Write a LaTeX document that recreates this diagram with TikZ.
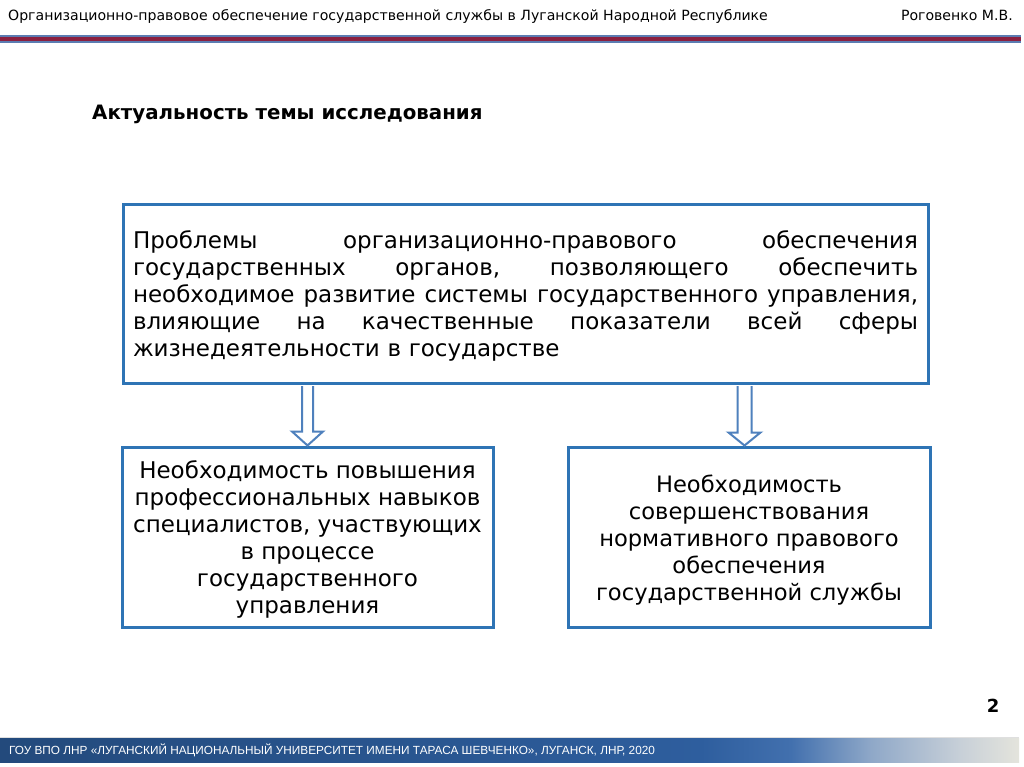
\documentclass[tikz,border=0pt]{standalone}
\usepackage{fontspec}
\setmainfont{DejaVu Sans}
\newfontfamily\ftfont{Liberation Sans}
\usetikzlibrary{calc}
\definecolor{boxblue}{RGB}{46,116,181}
\definecolor{arrblue}{RGB}{79,129,189}
\definecolor{stripeblue}{RGB}{91,124,178}
\definecolor{stripered}{RGB}{139,32,64}
\definecolor{fa}{RGB}{35,74,124}
\definecolor{fb}{RGB}{46,94,158}
\definecolor{fc}{RGB}{66,112,174}
\definecolor{fd}{RGB}{143,168,200}
\definecolor{fe}{RGB}{200,208,216}
\definecolor{ff}{RGB}{228,228,220}
\pgfdeclarehorizontalshading{footshade}{100bp}{color(0bp)=(fa); color(25bp)=(fa); color(59.4bp)=(fb); color(63.8bp)=(fc); color(67.75bp)=(fd); color(72.15bp)=(fe); color(75bp)=(ff); color(100bp)=(ff)}
\tikzset{
  framebox/.style={draw=boxblue, line width=3pt, fill=white, inner sep=0pt},
  hollowarrow/.style={draw=arrblue, line width=2pt, fill=white, line join=miter},
  bodytext/.style={font=\fontsize{23}{27}\selectfont, text=black},
  hdr/.style={inner sep=0pt, font=\fontsize{14.1}{16}\selectfont, text=black},
}
\newcommand{\jline}[1]{\makebox[785pt][l]{#1}}
\begin{document}
\begin{tikzpicture}[x=1pt,y=-1pt]
\useasboundingbox (0,0) rectangle (1024,767);
\fill[white] (0,0) rectangle (1024,767);
% header
\node[hdr, anchor=base west] (htitle) at (8,21)
  {Организационно-правовое обеспечение государственной службы в Луганской Народной Республике};
\node[hdr, anchor=base east] (hauthor) at (1013,21) {Роговенко М.В.};
\fill[stripeblue] (0,35) rectangle (1021,43.3);
\fill[stripered] (0,37.3) rectangle (1021,40.7);
% title
\node[anchor=base west, inner sep=0pt, font=\bfseries\fontsize{19.8}{22}\selectfont] (title) at (92,120) {Актуальность темы исследования};
% main box
\node[framebox, minimum width=805pt, minimum height=178pt] (main) at (525.5,294) {};
\node[bodytext, text width=785pt, align=left, inner sep=0pt] (maintext) at (525.5,296) {%
\jline{Проблемы\hfill организационно-правового\hfill обеспечения}\\
\jline{государственных\hfill органов,\hfill позволяющего\hfill обеспечить}\\
\jline{необходимое\hfill развитие\hfill системы\hfill государственного\hfill управления,}\\
\jline{влияющие\hfill на\hfill качественные\hfill показатели\hfill всей\hfill сферы}\\
жизнедеятельности в государстве};
% lower boxes
\node[framebox, minimum width=371pt, minimum height=180pt] (left) at (307.5,537) {};
\node[bodytext, align=center, inner sep=0pt] (lefttext) at (307.5,539) {Необходимость повышения\\профессиональных навыков\\специалистов, участвующих\\в процессе\\государственного\\управления};
\node[framebox, minimum width=362pt, minimum height=180pt] (right) at (749,537) {};
\node[bodytext, font=\fontsize{22.6}{27}\selectfont, align=center, inner sep=0pt] (righttext) at (749,540) {Необходимость\\совершенствования\\нормативного правового\\обеспечения\\государственной службы};
% arrows
\coordinate (a1) at (main.south -| 307.5,0);
\coordinate (b1) at (left.north -| 307.5,0);
\draw[hollowarrow] ($(a1)+(-5.5,1.5)$) -- ($(b1)+(-5.5,-14)$) -- ($(b1)+(-15.5,-14)$) -- (b1) -- ($(b1)+(15.5,-14)$) -- ($(b1)+(5.5,-14)$) -- ($(a1)+(5.5,1.5)$);
\coordinate (a2) at (main.south -| 744.5,0);
\coordinate (b2) at (right.north -| 744.5,0);
\draw[hollowarrow] ($(a2)+(-7,1.5)$) -- ($(b2)+(-7,-13)$) -- ($(b2)+(-16,-13)$) -- (b2) -- ($(b2)+(16,-13)$) -- ($(b2)+(7,-13)$) -- ($(a2)+(7,1.5)$);
% page number
\node[font=\bfseries\fontsize{18}{20}\selectfont, inner sep=0pt] (pnum) at (993,706) {2};
% footer
\shade[shading=footshade] (0,738) rectangle (1019,762);
\draw[white!75!gray, line width=1pt] (0,737.5) -- (1019,737.5);
\node[anchor=base west, inner sep=0pt, text=white, font=\ftfont\fontsize{11.8}{13}\selectfont] (foot) at (9,754)
  {ГОУ ВПО ЛНР «ЛУГАНСКИЙ НАЦИОНАЛЬНЫЙ УНИВЕРСИТЕТ ИМЕНИ ТАРАСА ШЕВЧЕНКО», ЛУГАНСК, ЛНР, 2020};
\end{tikzpicture}
\end{document}
